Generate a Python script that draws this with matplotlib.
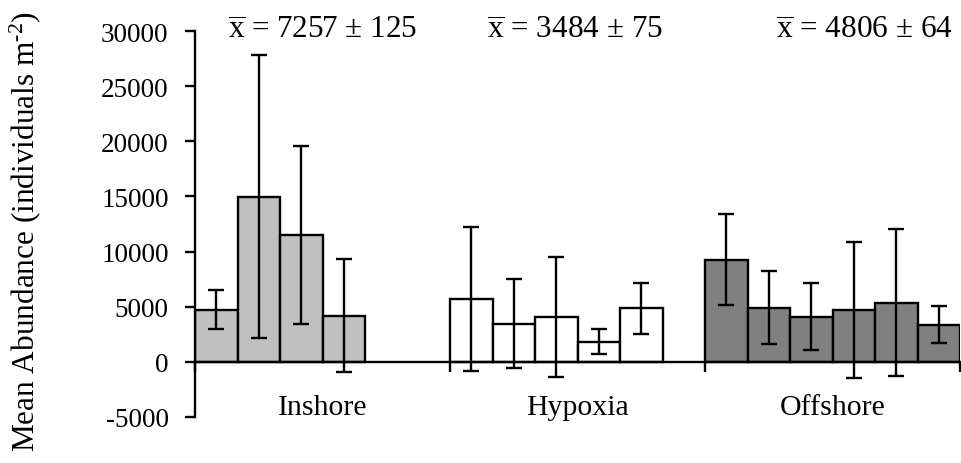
import matplotlib
matplotlib.use('Agg')
import matplotlib.pyplot as plt
import numpy as np

plt.rcParams['font.family'] = ['Liberation Serif', 'DejaVu Serif']
plt.rcParams['mathtext.fontset'] = 'custom'
plt.rcParams['mathtext.rm'] = 'Liberation Serif'
plt.rcParams['mathtext.it'] = 'Liberation Serif:italic'
plt.rcParams['axes.unicode_minus'] = False

# data
categories = ['Inshore', 'Hypoxia', 'Offshore']
inshore_mean = [4740, 14980, 11510, 4170]
inshore_err = [1750, 12800, 8100, 5130]
hypoxia_mean = [5710, 3440, 4080, 1840, 4860]
hypoxia_err = [6550, 4030, 5460, 1120, 2330]
offshore_mean = [9245, 4920, 4110, 4710, 5380, 3380]
offshore_err = [4120, 3280, 3020, 6180, 6640, 1650]
summary_labels = ['7257 ± 125', '3484 ± 75', '4806 ± 64']
summary_x = [0.5, 1.49, 2.627]

means = [inshore_mean, hypoxia_mean, offshore_mean]
errs = [inshore_err, hypoxia_err, offshore_err]
colors = ['#c0c0c0', '#ffffff', '#808080']

n_slots = 6
bw = 1.0 / n_slots

fig = plt.figure(figsize=(9.61, 4.64), dpi=100)
ax = fig.add_axes([195 / 961, 1 - 418 / 464, 765 / 961, 386 / 464])

for i, (m, e) in enumerate(zip(means, errs)):
    x = i + np.arange(len(m)) * bw
    ax.bar(x, m, width=bw, align='edge', color=colors[i], edgecolor='black',
           linewidth=1.7, zorder=2)
    ax.errorbar(x + bw / 2, m, yerr=e, fmt='none', ecolor='black',
                elinewidth=1.7, capsize=5.5, capthick=1.7, zorder=3)

for xs, lab in zip(summary_x, summary_labels):
    ax.text(xs, 29370, r'$\overline{\mathrm{x}}$ = ' + lab, ha='center',
            va='baseline', fontsize=22.5)

ax.set_xlim(0, 3)
ax.set_ylim(-5000, 30000)
ax.set_yticks(np.arange(-5000, 30001, 5000))
ax.spines['top'].set_visible(False)
ax.spines['right'].set_visible(False)
ax.spines['bottom'].set_position(('data', 0))
ax.spines['left'].set_linewidth(1.7)
ax.spines['bottom'].set_linewidth(1.7)

ax.set_xticks([0.5, 1.5, 2.5])
ax.set_xticklabels(categories)
ax.set_xticks([0, 1, 2, 3], minor=True)
ax.tick_params(axis='x', which='major', length=0, pad=23.5, labelsize=21.5)
ax.tick_params(axis='x', which='minor', length=7, width=1.7, direction='out')
ax.tick_params(axis='y', length=7, width=1.7, pad=12, labelsize=19.5)

fig.text(0.026, 0.5, r'Mean Abundance (individuals m$^{\text{-2}}$)',
         rotation=90, ha='center', va='center', fontsize=22.5)

fig.savefig('out.png', dpi=100)
